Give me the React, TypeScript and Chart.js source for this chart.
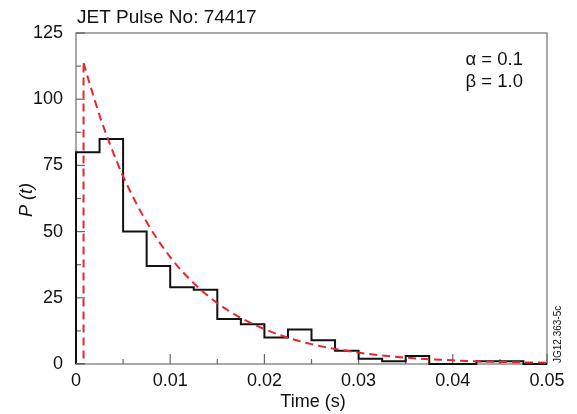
import React, { useEffect, useRef } from "react";
import { Chart, registerables } from "chart.js";

Chart.register(...registerables);

// Histogram of pulse data: bin left edges (s) and heights P(t)
const binEdges = [
  0, 0.0025, 0.005, 0.0075, 0.01, 0.0125, 0.015, 0.0175, 0.02, 0.0225,
  0.025, 0.0275, 0.03, 0.0325, 0.035, 0.0375, 0.04, 0.0425, 0.045, 0.0475,
];
const binCounts = [80, 85, 50, 37, 29, 28, 17, 15, 10, 13, 9, 5, 2, 1, 3, 0, 0, 1, 1, 0];
const binEnd = 0.05;

// Red dashed fit curve
const fitOnsetTimes = [0, 0.0008, 0.0008];
const fitOnsetValues = [0, 0, 113.7];
const fitTimes = [
  0.0008, 0.0015, 0.0025, 0.0035, 0.005, 0.0075, 0.01, 0.0125, 0.015, 0.0175,
  0.02, 0.0225, 0.025, 0.0275, 0.03, 0.0325, 0.035, 0.0375, 0.04, 0.0425,
  0.045, 0.0475, 0.05,
];
const fitValues = [
  113.7, 105.3, 93.9, 84.0, 70.9, 53.6, 40.4, 30.5, 23.0, 17.4,
  13.2, 9.9, 7.5, 5.7, 4.3, 3.2, 2.4, 1.8, 1.4, 1.0,
  0.8, 0.6, 0.5,
];

const xTickValues = [0, 0.01, 0.02, 0.03, 0.04, 0.05];
const xTickLabels = ["0", "0.01", "0.02", "0.03", "0.04", "0.05"];
const yTickValues = [0, 25, 50, 75, 100, 125];

const titleText = "JET Pulse No: 74417";
const xTitle = "Time (s)";
const yTitle = "P (t)";
const paramLines = ["\u03b1 = 0.1", "\u03b2 = 1.0"];
const refCode = "JG12.363-5c";

const FONT = "'Liberation Sans', Arial, sans-serif";

export default function App() {
  const canvasRef = useRef<HTMLCanvasElement | null>(null);

  useEffect(() => {
    document.body.style.margin = "0";
    const canvas = canvasRef.current;
    if (!canvas) return;

    const histPoints: { x: number; y: number }[] = [{ x: 0, y: 0 }];
    binEdges.forEach((e, i) => histPoints.push({ x: e, y: binCounts[i] }));
    histPoints.push({ x: binEnd, y: binCounts[binCounts.length - 1] });

    const onsetPoints = fitOnsetTimes.map((t, i) => ({ x: t, y: fitOnsetValues[i] }));
    const fitPoints = fitTimes.map((t, i) => ({ x: t, y: fitValues[i] }));

    const decor = {
      id: "decor",
      beforeDatasetsDraw(chart: any) {
        const { ctx, chartArea: a, scales } = chart;
        const xs = scales.x;
        const ys = scales.y;
        ctx.save();
        ctx.strokeStyle = "#8c8c8c";
        ctx.lineWidth = 1.5;
        ctx.beginPath();
        ctx.rect(a.left, a.top, a.right - a.left, a.bottom - a.top);
        ctx.stroke();
        // inward ticks
        ctx.lineWidth = 1.2;
        ctx.strokeStyle = "#666";
        for (let v = 0; v <= 125; v += 12.5) {
          const major = Math.abs(v % 25) < 1e-9;
          const y = ys.getPixelForValue(v);
          ctx.beginPath();
          ctx.moveTo(a.left, y);
          ctx.lineTo(a.left + (major ? 9 : 5), y);
          ctx.stroke();
        }
        for (let i = 0; i <= 10; i++) {
          const v = i * 0.005;
          const major = i % 2 === 0;
          const x = xs.getPixelForValue(v);
          ctx.beginPath();
          ctx.moveTo(x, a.bottom);
          ctx.lineTo(x, a.bottom - (major ? 10 : 5));
          ctx.stroke();
        }
        ctx.restore();
      },
      afterDraw(chart: any) {
        const { ctx } = chart;
        ctx.save();
        ctx.fillStyle = "#111";
        ctx.font = `19px ${FONT}`;
        ctx.textAlign = "left";
        ctx.textBaseline = "alphabetic";
        ctx.fillText(titleText, 77, 23);

        ctx.font = `18.5px ${FONT}`;
        ctx.textAlign = "right";
        ctx.fillText(paramLines[0], 523, 65);
        ctx.fillText(paramLines[1], 523, 87);

        ctx.font = `18px ${FONT}`;
        ctx.textAlign = "center";
        ctx.fillText(xTitle, 313, 407);

        ctx.save();
        ctx.translate(27, 200);
        ctx.rotate(-Math.PI / 2);
        ctx.font = `italic 18px ${FONT}`;
        ctx.textAlign = "center";
        ctx.textBaseline = "middle";
        ctx.fillText(yTitle, 0, 0);
        ctx.restore();

        ctx.save();
        ctx.translate(558, 363);
        ctx.rotate(-Math.PI / 2);
        ctx.font = `10px ${FONT}`;
        ctx.textAlign = "left";
        ctx.textBaseline = "middle";
        ctx.fillText(refCode, 0, 0);
        ctx.restore();
        ctx.restore();
      },
    };

    const chart = new Chart(canvas, {
      type: "line",
      data: {
        datasets: [
          {
            label: "fit onset",
            data: onsetPoints,
            borderColor: "#e8242c",
            borderWidth: 2,
            borderDash: [8, 5],
            pointRadius: 0,
            tension: 0,
            fill: false,
          },
          {
            label: "fit",
            data: fitPoints,
            borderColor: "#e8242c",
            borderWidth: 2,
            borderDash: [8, 5],
            pointRadius: 0,
            cubicInterpolationMode: "monotone",
            fill: false,
          },
          {
            label: "histogram",
            data: histPoints,
            borderColor: "#111",
            borderWidth: 2,
            stepped: "before",
            pointRadius: 0,
            fill: false,
            clip: 4,
          },
        ],
      } as any,
      options: {
        animation: false,
        responsive: false,
        maintainAspectRatio: false,
        layout: { padding: { top: 33, right: 30, left: 0, bottom: 0 } },
        plugins: {
          legend: { display: false },
          tooltip: { enabled: false },
          title: { display: false },
        },
        scales: {
          x: {
            type: "linear",
            min: 0,
            max: 0.05,
            afterBuildTicks: (s: any) => {
              s.ticks = xTickValues.map((v) => ({ value: v }));
            },
            afterFit: (s: any) => {
              s.height = 50;
            },
            ticks: {
              font: { family: FONT, size: 18 },
              color: "#111",
              padding: -2,
              maxRotation: 0,
              callback: (v: any) => {
                const i = xTickValues.findIndex((t) => Math.abs(t - Number(v)) < 1e-9);
                return i >= 0 ? xTickLabels[i] : "";
              },
            },
            grid: { display: false },
            border: { display: false },
          },
          y: {
            type: "linear",
            min: 0,
            max: 125,
            afterBuildTicks: (s: any) => {
              s.ticks = yTickValues.map((v) => ({ value: v }));
            },
            afterFit: (s: any) => {
              s.width = 76;
            },
            ticks: {
              font: { family: FONT, size: 18 },
              color: "#111",
              padding: 5,
            },
            grid: { display: false },
            border: { display: false },
          },
        },
      } as any,
      plugins: [decor],
    });

    return () => chart.destroy();
  }, []);

  return (
    <div style={{ width: 577, height: 414, position: "relative", background: "#fff" }}>
      <canvas ref={canvasRef} width={577} height={414} style={{ display: "block" }} />
    </div>
  );
}
